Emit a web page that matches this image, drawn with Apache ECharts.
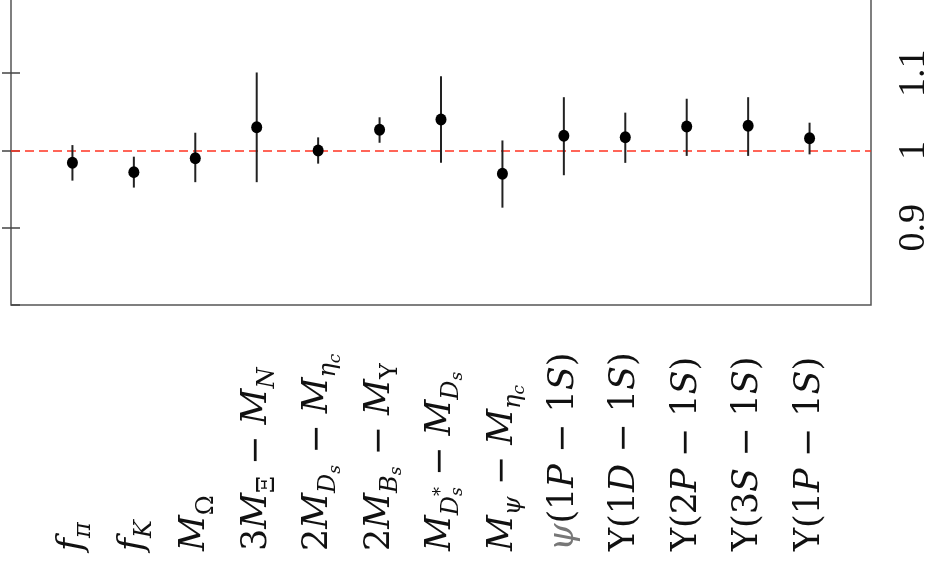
<!DOCTYPE html>
<html>
<head>
<meta charset="utf-8">
<script src="https://cdn.jsdelivr.net/npm/echarts@6/dist/echarts.min.js"></script>
<style>
  html, body { margin: 0; padding: 0; background: #fff; }
  #chart { width: 933px; height: 566px; }
</style>
</head>
<body>
<div id="chart"></div>
<script>
// Quantities compared (rich-text markup: i = italic, s = subscript, ss = second-level subscript)
const labels = [
  '{i|f}{s|π}',
  '{i|f}{s|K}',
  '{i|M}{su|Ω}',
  '{r|3}{i|M}{su|Ξ}{r| − }{i|M}{s|N}',
  '{r|2}{i|M}{s|D}{ss|s}{r| − }{i|M}{s|η}{ss|c}',
  '{r|2}{i|M}{s|B}{ss|s}{r| − }{i|M}{su|Υ}',
  '{i|M}{s|D}{sp|*}{ss|s}{r| − }{i|M}{s|D}{ss|s}',
  '{i|M}{s|ψ}{r| − }{i|M}{s|η}{ss|c}',
  '{g|ψ}{r|(1}{i|P}{r| − 1}{i|S}{r|)}',
  '{r|Υ(1}{i|D}{r| − 1}{i|S}{r|)}',
  '{r|Υ(2}{i|P}{r| − 1}{i|S}{r|)}',
  '{r|Υ(3}{i|S}{r| − 1}{i|S}{r|)}',
  '{r|Υ(1}{i|P}{r| − 1}{i|S}{r|)}'
];

// Ratio values and their error-bar limits
const values  = [0.984, 0.972, 0.990, 1.030, 1.000, 1.027, 1.040, 0.970, 1.019, 1.017, 1.031, 1.032, 1.016];
const errLow  = [0.961, 0.952, 0.959, 0.959, 0.983, 1.010, 0.984, 0.926, 0.968, 0.984, 0.993, 0.993, 0.995];
const errHigh = [1.007, 0.992, 1.023, 1.101, 1.017, 1.043, 1.096, 1.013, 1.069, 1.049, 1.067, 1.069, 1.036];

// Value-axis range and tick labels shown
const yMin = 0.8, yMax = 1.2, yStep = 0.1;
const yTickLabels = { '0.9': '0.9', '1.0': '1', '1.1': '1.1' };
const reference = 1;

const serif = "'Liberation Serif', 'DejaVu Serif', serif";
const labelSerif = "'DejaVu Serif', 'Liberation Serif', serif";
const F = 35;

const points = values.map((v, i) => [i + 1, v]);
const bars = values.map((v, i) => [i + 1, errLow[i], errHigh[i]]);

const chart = echarts.init(document.getElementById('chart'), null, { renderer: 'canvas' });

const tickStyle = { show: true, inside: true, length: 9, lineStyle: { color: '#444', width: 1.5 } };
const ink = '#111';

chart.setOption({
  animation: false,
  backgroundColor: '#fff',
  grid: {
    left: 11, right: 62, top: -4, bottom: 261,
    show: true, borderColor: '#555', borderWidth: 1.5,
    containLabel: false, outerBoundsMode: 'none'
  },
  xAxis: {
    type: 'value', min: 0, max: labels.length + 1, interval: 1,
    axisLine: { show: false }, axisTick: { show: false }, splitLine: { show: false },
    axisLabel: {
      show: true, rotate: 90, align: 'left', verticalAlign: 'middle', margin: 246,
      showMinLabel: false, showMaxLabel: false,
      formatter: v => labels[v - 1] || '',
      rich: {
        r:  { fontFamily: labelSerif, fontSize: F, color: ink, lineHeight: 44 },
        g:  { fontFamily: labelSerif, fontSize: F, color: '#777', fontStyle: 'italic', lineHeight: 44 },
        i:  { fontFamily: labelSerif, fontSize: F, color: ink, fontStyle: 'italic', lineHeight: 44 },
        s:  { fontFamily: labelSerif, fontSize: 24, color: ink, fontStyle: 'italic', height: 22, verticalAlign: 'bottom' },
        su: { fontFamily: labelSerif, fontSize: 24, color: ink, height: 22, verticalAlign: 'bottom' },
        ss: { fontFamily: labelSerif, fontSize: 17, color: ink, fontStyle: 'italic', height: 10, verticalAlign: 'bottom' },
        sp: { fontFamily: labelSerif, fontSize: 18, color: ink, width: 0, height: 16, verticalAlign: 'middle' }
      }
    }
  },
  yAxis: [
    {
      type: 'value', position: 'right', min: yMin, max: yMax, interval: yStep,
      axisLine: { show: false }, splitLine: { show: false },
      axisTick: tickStyle,
      axisLabel: {
        show: true, rotate: 90, align: 'center', verticalAlign: 'top', margin: 24,
        fontFamily: serif, fontSize: 38, color: ink,
        showMinLabel: false, showMaxLabel: false,
        formatter: v => yTickLabels[v.toFixed(1)] || ''
      }
    },
    {
      type: 'value', position: 'left', min: yMin, max: yMax, interval: yStep,
      axisLine: { show: false }, splitLine: { show: false },
      axisTick: tickStyle,
      axisLabel: { show: false }
    }
  ],
  series: [
    {
      type: 'custom',
      xAxisIndex: 0, yAxisIndex: 0,
      data: bars,
      silent: true,
      z: 3,
      renderItem: (params, api) => {
        const lo = api.coord([api.value(0), api.value(1)]);
        const hi = api.coord([api.value(0), api.value(2)]);
        return {
          type: 'line',
          shape: { x1: lo[0], y1: lo[1], x2: hi[0], y2: hi[1] },
          style: { stroke: '#222', lineWidth: 2 }
        };
      },
      encode: { x: 0, y: [1, 2] }
    },
    {
      type: 'scatter',
      xAxisIndex: 0, yAxisIndex: 0,
      data: points,
      symbol: 'circle',
      symbolSize: [11, 12],
      itemStyle: { color: '#000', opacity: 1 },
      silent: true,
      z: 4,
      markLine: {
        silent: true,
        symbol: 'none',
        label: { show: false },
        lineStyle: { color: '#ff3322', width: 1.5, type: [9, 5], opacity: 1 },
        data: [{ yAxis: reference }],
        z: 2
      }
    }
  ]
});
</script>
</body>
</html>
